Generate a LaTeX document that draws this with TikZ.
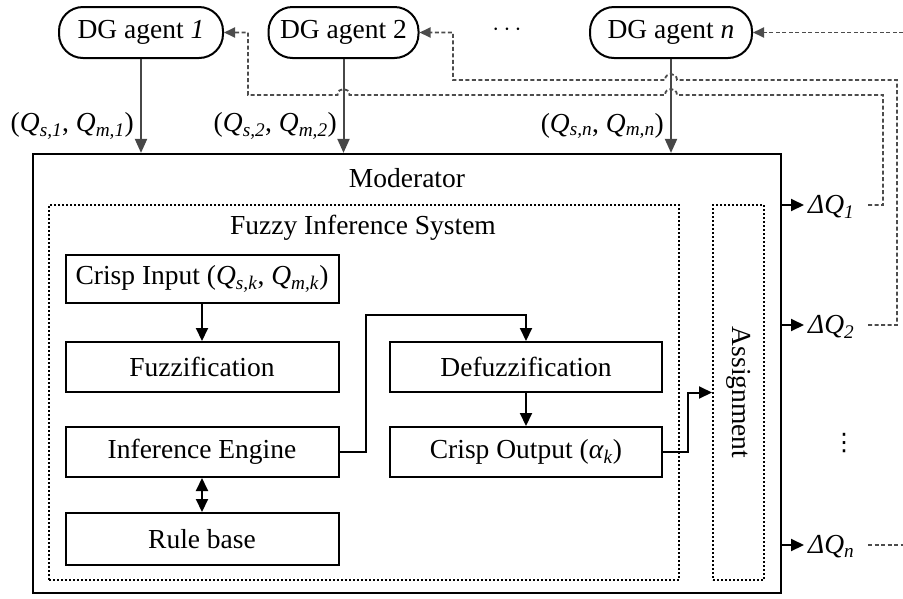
\documentclass[tikz,border=0pt]{standalone}
\usepackage{fontspec}
\setmainfont{Liberation Serif}
\newfontfamily\symfont{DejaVu Sans}
\usetikzlibrary{arrows.meta,calc}
\newcommand\qpair[2]{(\textit{Q}\textsubscript{\textit{#1}}, \textit{Q}\textsubscript{\textit{#2}})}
\newcommand\dq[1]{\textit{ΔQ}\textsubscript{\textit{#1}}}
\begin{document}
\begin{tikzpicture}[x=1pt,y=-1pt,
  every node/.style={font=\fontsize{27.5}{32}\selectfont},
  agent/.style={draw,line width=2pt,rounded corners=24pt,minimum height=51pt,inner sep=0pt},
  box/.style={draw,line width=2pt,minimum width=273pt,minimum height=50pt,inner sep=0pt},
  dotbox/.style={draw,line width=2pt,dash pattern=on 2pt off 2pt,inner sep=0pt},
  arr/.style={line width=2pt,-{Triangle[length=13pt,width=12pt]}},
  darr/.style={line width=2pt,{Triangle[length=13pt,width=12pt]}-{Triangle[length=13pt,width=12pt]}},
  garr/.style={line width=2pt,draw=black!72,-{Triangle[length=14pt,width=12pt,fill=black!72]}},
  dsh/.style={line width=1.8pt,draw=black!70,dash pattern=on 4pt off 2.5pt},
  dsharr/.style={dsh,-{Triangle[length=11pt,width=10pt,fill=black!70]}},
  qlab/.style={anchor=east,inner sep=0pt},
  dqlab/.style={anchor=west,inner xsep=7pt,inner ysep=0pt}
]
\useasboundingbox (0,0) rectangle (903,598);
% agents
\node[agent,minimum width=164pt] (a1) at (141,32.5) {DG agent \textit{1}};
\node[agent,minimum width=150pt] (a2) at (343.5,32.5) {DG agent 2};
\node[agent,minimum width=162pt] (an) at (671,32.5) {DG agent \textit{n}};
\node (hd) at (507,30) {$\cdots$};
% moderator
\node[draw,line width=2.2pt,minimum width=748pt,minimum height=439pt,inner sep=0pt] (mod) at (407,373.5) {};
\node (modl) at (407,178) {Moderator};
\node[dotbox,minimum width=630pt,minimum height=375pt] (fis) at (364,392.5) {};
\node (fisl) at (363,228) {Fuzzy Inference System};
\node[dotbox,minimum width=51pt,minimum height=375pt] (as) at (738.5,392.5) {};
\node[rotate=-90] (asl) at (as.center) {Assignment};
% inner boxes
\node[box,minimum height=48pt] (ci) at (202,279) {Crisp Input \qpair{s,k}{m,k}};
\node[box] (fz) at (202,367) {Fuzzification};
\node[box] (ie) at (202,452) {Inference Engine};
\node[box,minimum height=52pt] (rb) at (202,539) {Rule base};
\node[box,minimum width=272pt] (df) at (526,367) {Defuzzification};
\node[box,minimum width=272pt] (co) at (526,452) {Crisp Output (\textit{α}\textsubscript{\textit{k}})};
\draw[arr] (ci) -- (fz);
\draw[darr] (ie) -- (rb);
\draw[arr] (df) -- (co);
\draw[arr] (ie.east) -- ++(26,0) |- ($(df.north)+(0,-26)$) -- (df.north);
\draw[arr] (co.east) -- ++(25,0) |- (as.west);
% agent arrows
\draw[garr] (a1.south) -- (a1.south |- mod.north);
\draw[garr] (a2.south) -- (a2.south |- mod.north);
\draw[garr] (an.south) -- (an.south |- mod.north);
\node[qlab] (q1) at (134,126) {\qpair{s,1}{m,1}};
\node[qlab] (q2) at (337,126) {\qpair{s,2}{m,2}};
\node[qlab] (qn) at (664,126) {\qpair{s,n}{m,n}};
% outputs
\node[dqlab] (dq1) at (801,207) {\dq{1}};
\node[dqlab] (dq2) at (801,327) {\dq{2}};
\node[dqlab] (dqn) at (801,547) {\dq{n}};
\node[font=\symfont\fontsize{24}{28}\selectfont] (vd) at (844,443) {⋮};
\draw[arr] (mod.east |- 0,205) -- (804,205);
\draw[arr] (mod.east |- 0,325) -- (804,325);
\draw[arr] (mod.east |- 0,545) -- (804,545);
% feedback
\coordinate (cin) at (903,32.5);
\coordinate (cout) at (903,545);
\draw[dsharr] (868,205) -- (883,205) -- (883,95) -- (677,95) .. controls (677,87) and (665,87) .. (665,95)
  -- (349.5,95) .. controls (349.5,87) and (337.5,87) .. (337.5,95) -- (248,95) |- (a1.east);
\draw[dsharr] (868,325) -- (897,325) -- (897,80) -- (677,80) .. controls (677,72) and (665,72) .. (665,80)
  -- (453,80) |- (a2.east);
\draw[dsharr] (cin) -- (an.east);
\draw[dsh] (868,545) -- (cout);
\end{tikzpicture}
\end{document}
